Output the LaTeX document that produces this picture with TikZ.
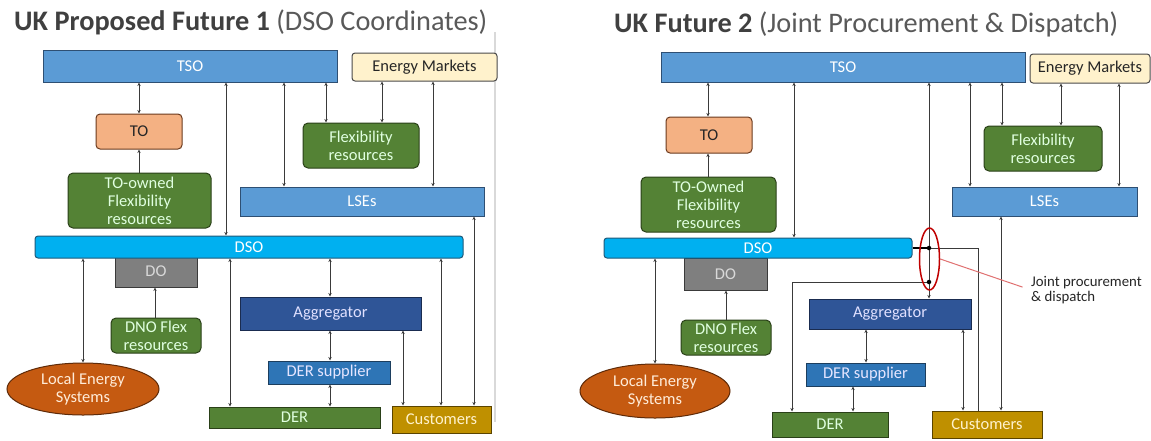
\documentclass[tikz,border=0pt]{standalone}
\usepackage{fontspec}
\setmainfont{Carlito}
\usetikzlibrary{arrows.meta,shapes.geometric}
\definecolor{tsoc}{HTML}{5B9BD5}
\definecolor{tsob}{HTML}{2E4F73}
\definecolor{emc}{HTML}{FFF2CC}
\definecolor{emb}{HTML}{4A4A4A}
\definecolor{toc}{HTML}{F4B183}
\definecolor{tob}{HTML}{6B3A1E}
\definecolor{grc}{HTML}{548235}
\definecolor{grb}{HTML}{2A4018}
\definecolor{dsoc}{HTML}{00B0F0}
\definecolor{dsob}{HTML}{1F5A7A}
\definecolor{doc}{HTML}{7F7F7F}
\definecolor{dob}{HTML}{3A3A3A}
\definecolor{aggc}{HTML}{2F5597}
\definecolor{aggb}{HTML}{1A2C50}
\definecolor{dersc}{HTML}{2E75B6}
\definecolor{dersb}{HTML}{1C3E5E}
\definecolor{custc}{HTML}{BF9000}
\definecolor{custb}{HTML}{5A4400}
\definecolor{lesc}{HTML}{C55A11}
\definecolor{lesb}{HTML}{5E2A08}
\definecolor{linec}{HTML}{3A3A3A}
\definecolor{titb}{HTML}{404040}
\definecolor{titr}{HTML}{595959}
\definecolor{redc}{HTML}{C00000}
\definecolor{pinkc}{HTML}{E07070}
\definecolor{divc}{HTML}{D9D9D9}
\begin{document}
\begin{tikzpicture}[x=1pt,y=-1pt,
  box/.style={draw, line width=1pt, inner sep=0pt, align=center,
    font=\fontsize{16.5}{18}\selectfont},
  tsobox/.style={box, fill=tsoc, draw=tsob, text=white},
  embox/.style={box, fill=emc, draw=emb, rounded corners=3pt, text=black!85},
  tobox/.style={box, fill=toc, draw=tob, rounded corners=4pt, text=black!85},
  greenbox/.style={box, fill=grc, draw=grb, rounded corners=5pt, text=white!88!green},
  dsobox/.style={box, fill=dsoc, draw=dsob, rounded corners=3pt, text=white},
  dobox/.style={box, fill=doc, draw=dob, text=white!85!black},
  aggbox/.style={box, fill=aggc, draw=aggb, text=white!88!blue},
  dersbox/.style={box, fill=dersc, draw=dersb, text=white!90!blue},
  derbox/.style={box, fill=grc, draw=grb, text=white!88!green},
  custbox/.style={box, fill=custc, draw=custb, text=emc},
  lesbox/.style={box, ellipse, fill=lesc, draw=lesb, text=white!85!orange},
  con/.style={draw=linec, line width=0.8pt},
  bi/.style={con, {Stealth[length=3.5pt,width=3.2pt]}-{Stealth[length=3.5pt,width=3.2pt]}},
  uni/.style={con, -{Stealth[length=3.5pt,width=3.2pt]}},
  title/.style={anchor=base west, inner sep=0pt, font=\fontsize{28.3}{30}\selectfont},
  dot/.style={circle, fill=black, inner sep=0pt, minimum size=4.5pt}
]
\path[use as bounding box] (0,0) rectangle (1151,440);
\fill[white] (0,0) rectangle (1151,440);

% titles
\node[title] (t1) at (14,30) {\textcolor{titb}{\textbf{UK Proposed Future 1}} \textcolor{titr}{(DSO Coordinates)}};
\node[title] (t2) at (614,32) {\textcolor{titb}{\textbf{UK Future 2}} \textcolor{titr}{(Joint Procurement \& Dispatch)}};

% divider
\coordinate (dv1) at (495,32);
\coordinate (dv2) at (495,422);
\draw[divc, line width=1.6pt] (dv1) -- (dv2);

%% ---------------- LEFT PANEL ----------------
\node[tsobox, minimum width=294pt, minimum height=32pt] (tsoL) at (190,66) {TSO};
\node[embox, minimum width=145pt, minimum height=28pt] (emL) at (424.5,67) {Energy Markets};
\node[tobox, minimum width=86pt, minimum height=35pt] (toL) at (139,131.5) {TO};
\node[greenbox, minimum width=143pt, minimum height=55pt] (tofL) at (139.5,200.5) {TO-owned\\Flexibility\\resources};
\node[greenbox, minimum width=116pt, minimum height=45pt] (flexL) at (361,145.5) {Flexibility\\resources};
\node[tsobox, minimum width=244pt, minimum height=29pt] (lseL) at (362,201.5) {LSEs};
\node[dobox, minimum width=82pt, minimum height=31pt] (doL) at (156,271.5) {DO};
\node[dsobox, minimum width=428pt, minimum height=22pt] (dsoL) at (249,247) {DSO};
\node[greenbox, minimum width=90pt, minimum height=35pt] (dnoL) at (156,335.5) {DNO Flex\\resources};
\node[lesbox, minimum width=152pt, minimum height=52pt] (lesL) at (83,389) {Local Energy\\Systems};
\node[aggbox, minimum width=181pt, minimum height=33pt] (aggL) at (330.5,313.5) {Aggregator};
\node[dersbox, minimum width=122pt, minimum height=23pt] (dersL) at (329,372.5) {DER supplier};
\node[derbox, minimum width=171pt, minimum height=21pt] (derL) at (294.5,417.5) {DER};
\node[custbox, minimum width=99pt, minimum height=27pt] (custL) at (441.5,419.5) {Customers};

\coordinate (la1) at (139,0);
\coordinate (la2) at (226,0);
\coordinate (la3) at (284,0);
\coordinate (la4) at (326,0);
\coordinate (la5) at (382,0);
\coordinate (la6) at (433,0);
\coordinate (la7) at (474,0);
\coordinate (la8) at (83,0);
\coordinate (la9) at (155,0);
\coordinate (la10) at (230,0);
\coordinate (la11) at (330,0);
\coordinate (la12) at (403,0);
\coordinate (la13) at (441,0);

\draw[bi] (la1 |- tsoL.south) -- (la1 |- toL.north);
\draw[uni] (la1 |- tofL.north) -- (la1 |- toL.south);
\draw[bi] (la2 |- tsoL.south) -- (la2 |- dsoL.north);
\draw[bi] (la3 |- tsoL.south) -- (la3 |- lseL.north);
\draw[bi] (la4 |- tsoL.south) -- (la4 |- flexL.north);
\draw[bi] (la5 |- emL.south) -- (la5 |- flexL.north);
\draw[bi] (la6 |- emL.south) -- (la6 |- lseL.north);
\draw[bi] (la7 |- lseL.south) -- (la7 |- custL.north);
\draw[bi] (la8 |- dsoL.south) -- (lesL.north);
\draw[uni] (la9 |- dnoL.north) -- (la9 |- doL.south);
\draw[bi] (la10 |- dsoL.south) -- (la10 |- derL.north);
\draw[bi] (la11 |- dsoL.south) -- (la11 |- aggL.north);
\draw[bi] (la11 |- aggL.south) -- (la11 |- dersL.north);
\draw[bi] (la11 |- dersL.south) -- (la11 |- derL.north);
\draw[bi] (la12 |- aggL.south) -- (la12 |- custL.north);
\draw[bi] (la13 |- dsoL.south) -- (la13 |- custL.north);

%% ---------------- RIGHT PANEL ----------------
\node[tsobox, minimum width=364pt, minimum height=30pt] (tsoR) at (843,67) {TSO};
\node[embox, minimum width=120pt, minimum height=29pt] (emR) at (1090,68.5) {Energy Markets};
\node[tobox, minimum width=86pt, minimum height=36pt] (toR) at (709,135) {TO};
\node[greenbox, minimum width=135pt, minimum height=55pt] (tofR) at (708.5,204.5) {TO-Owned\\Flexibility\\resources};
\node[greenbox, minimum width=118pt, minimum height=45pt] (flexR) at (1043,148.5) {Flexibility\\resources};
\node[tsobox, minimum width=185pt, minimum height=29pt] (lseR) at (1044.5,201.5) {LSEs};
\node[dobox, minimum width=83pt, minimum height=32pt] (doR) at (725.5,274) {DO};
\node[dsobox, minimum width=308pt, minimum height=20pt] (dsoR) at (758,248) {DSO};
\node[greenbox, minimum width=90pt, minimum height=35pt] (dnoR) at (726,337.5) {DNO Flex\\resources};
\node[lesbox, minimum width=150pt, minimum height=54pt] (lesR) at (655,391) {Local Energy\\Systems};
\node[aggbox, minimum width=162pt, minimum height=30pt] (aggR) at (890,314) {Aggregator};
\node[dersbox, minimum width=119pt, minimum height=23pt] (dersR) at (865.5,374.5) {DER supplier};
\node[derbox, minimum width=116pt, minimum height=25pt] (derR) at (830,424.5) {DER};
\node[custbox, minimum width=110pt, minimum height=27pt] (custR) at (987,424.5) {Customers};

\coordinate (ra1) at (708,0);
\coordinate (ra2) at (794,0);
\coordinate (ra3) at (929,0);
\coordinate (ra4) at (970,0);
\coordinate (ra5) at (1002,0);
\coordinate (ra6) at (1061,0);
\coordinate (ra7) at (1119,0);
\coordinate (ra8) at (1001,0);
\coordinate (ra9) at (963,0);
\coordinate (ra10) at (866,0);
\coordinate (ra11) at (853,0);
\coordinate (ra12) at (655,0);
\coordinate (ra13) at (726,0);
\coordinate (rx1) at (978,0);
\coordinate (rx2) at (792,0);

\draw[bi] (ra1 |- tsoR.south) -- (ra1 |- toR.north);
\draw[uni] (ra1 |- tofR.north) -- (ra1 |- toR.south);
\draw[bi] (ra2 |- tsoR.south) -- (ra2 |- dsoR.north);
\draw[bi] (ra3 |- tsoR.south) -- (ra3 |- aggR.north);
\draw[bi] (ra4 |- tsoR.south) -- (ra4 |- lseR.north);
\draw[bi] (ra5 |- tsoR.south) -- (ra5 |- flexR.north);
\draw[bi] (ra6 |- emR.south) -- (ra6 |- flexR.north);
\draw[bi] (ra7 |- emR.south) -- (ra7 |- lseR.north);
\draw[bi] (ra8 |- lseR.south) -- (ra8 |- custR.north);
\draw[bi] (ra9 |- aggR.south) -- (ra9 |- custR.north);
\draw[bi] (ra10 |- aggR.south) -- (ra10 |- dersR.north);
\draw[bi] (ra11 |- dersR.south) -- (ra11 |- derR.north);
\draw[bi] (ra12 |- dsoR.south) -- (lesR.north);
\draw[uni] (ra13 |- dnoR.north) -- (ra13 |- doR.south);

% joint procurement junctions
\coordinate (j1) at (ra3 |- dsoR.east);
\coordinate (j2) at (929,282);
\draw[black, line width=2pt] (dsoR.east) -- (j1);
\draw[con] (j1) -| (rx1 |- custR.north);
\draw[uni] (j2) -| (rx2 |- derR.north);
\node[dot] (d1) at (j1) {};
\node[dot] (d2) at (j2) {};

\node[draw=redc, line width=1.5pt, ellipse, minimum width=20pt, minimum height=62pt, inner sep=0pt] (jpe) at (929.5,259) {};
\node[anchor=west, align=left, inner sep=0pt, text=black!85, font=\fontsize{14.8}{15.5}\selectfont] (lbl) at (1031,290) {Joint procurement\\\& dispatch};
\draw[pinkc, line width=1pt, shorten >=9pt] (jpe.east) -- (lbl.west);
\end{tikzpicture}
\end{document}
